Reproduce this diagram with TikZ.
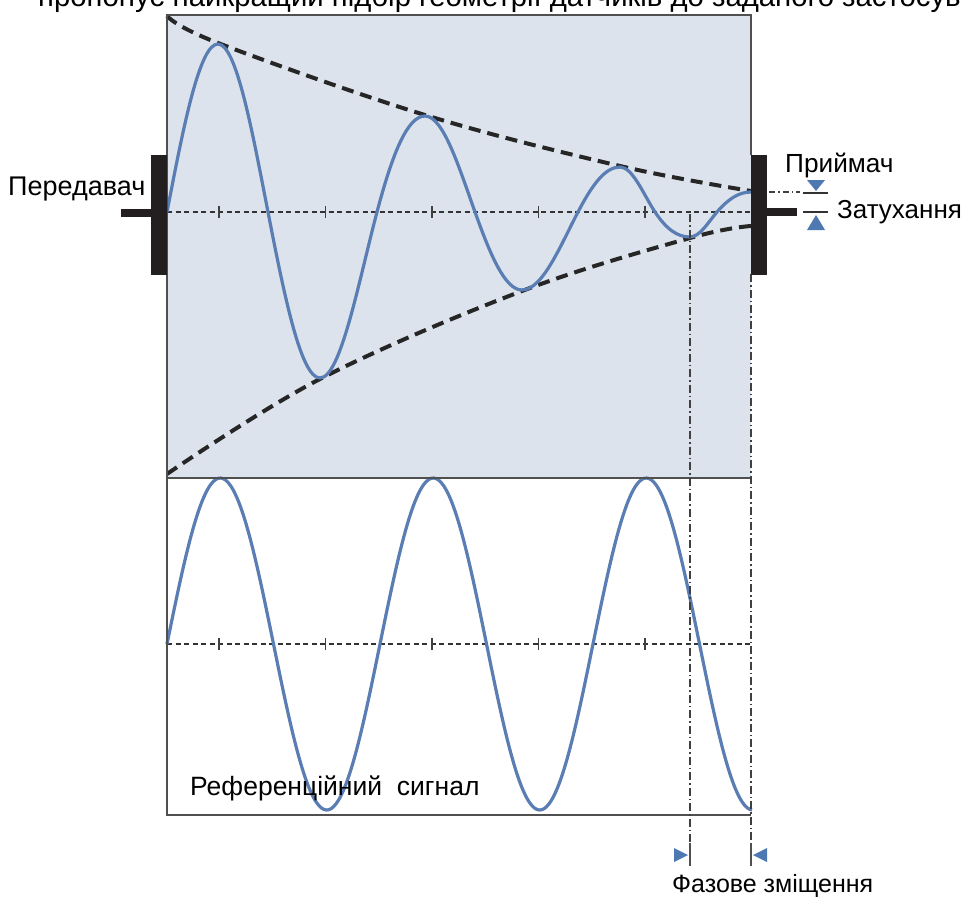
\documentclass[tikz,border=0pt]{standalone}
\usepackage{fontspec}
\setmainfont{Liberation Sans}
\definecolor{wave}{HTML}{5A7DB3}
\definecolor{panel}{HTML}{DCE3EC}
\definecolor{frame}{HTML}{505050}
\definecolor{bar}{HTML}{231F20}
\definecolor{mark}{HTML}{4E78B2}
\begin{document}
\begin{tikzpicture}[x=1pt,y=-1pt,
  wavepath/.style={draw=wave,line width=3.2pt},
  envelope/.style={draw=black!85,line width=4pt,dash pattern=on 12pt off 7pt},
  axisline/.style={draw=black!80,line width=1.2pt,dash pattern=on 5pt off 3.5pt},
  tickmark/.style={draw=black!75,line width=1.6pt},
  frameline/.style={draw=frame,line width=1.6pt},
  dashdot/.style={draw=black!75,line width=1.3pt,dash pattern=on 8pt off 3pt on 1.5pt off 3pt},
  sensorbar/.style={fill=bar,draw=none},
  marktri/.style={fill=mark,draw=none},
  lbl/.style={inner sep=0pt,anchor=base west},
  fs/.style={font=\fontsize{#1}{#1}\selectfont}]
\useasboundingbox (0,0) rectangle (966,897);
% panels
\fill[panel] (167,15) rectangle (751,478);
\fill[white] (167,478) rectangle (751,815);
% axes
\draw[axisline] (167,212) -- (751,212);
\draw[axisline] (167,644) -- (751,644);
\foreach \t in {219,325.5,432,538.5,645}{
  \draw[tickmark] (\t,206) -- (\t,218);
  \draw[tickmark] (\t,638) -- (\t,650);
}
% envelopes
\draw[envelope] plot[smooth,tension=0.6] coordinates {(167,16) (218,43) (425,115) (620,166) (751,191)};
\draw[envelope] plot[smooth,tension=0.6] coordinates {(167,474) (320,379) (522,291) (690,238) (751,226)};
% damped wave
\draw[wavepath] (167,212)
  .. controls (183.6,126.0) and (199.5,44) .. (218,44)
  .. controls (236.1,44) and (251.7,128.2) .. (268,212)
  .. controls (284.9,298.9) and (301.2,378) .. (320,378)
  .. controls (340.6,378) and (358.4,282.5) .. (377,212)
  .. controls (392.6,152.9) and (407.6,116) .. (425,116)
  .. controls (443.1,116) and (458.7,166.4) .. (475,212)
  .. controls (490.3,254.8) and (505.0,290) .. (522,290)
  .. controls (542.3,290) and (559.8,247.0) .. (578,212)
  .. controls (591.7,185.7) and (604.8,167) .. (620,167)
  .. controls (632.7,167) and (643.6,194.8) .. (655,212)
  .. controls (666.4,229.2) and (677.3,237) .. (690,237)
  .. controls (699.8,237) and (708.2,222.2) .. (717,212)
  .. controls (728.1,199.1) and (738.7,192) .. (751,192);
% reference wave
\draw[wavepath] plot[domain=0:585,samples=240,smooth] ({\x+167},{644-166*sin(1.690141*\x)});
% frames
\draw[frameline] (751,155) -- (751,15) -- (167,15) -- (167,815) -- (751,815);
\draw[frameline] (167,478) -- (751,478);
% phase lines
\coordinate (phA) at (690,214);
\coordinate (phB) at (690,842);
\coordinate (rcA) at (751,274);
\coordinate (rcB) at (751,842);
\draw[dashdot] (phA) -- (phB);
\draw[dashdot] (rcA) -- (rcB);
\draw[frameline,line width=1.4pt] (690,843) -- (690,866);
\draw[frameline,line width=1.4pt] (751,843) -- (751,866);
\fill[marktri] (674,848) -- (674,862) -- (688,855) -- cycle;
\fill[marktri] (767,848) -- (767,862) -- (753,855) -- cycle;
% sensors
\fill[sensorbar] (151,155) rectangle (167,275);
\fill[sensorbar] (121,209) rectangle (151,217);
\fill[sensorbar] (751,155) rectangle (767,275);
\fill[sensorbar] (767,208) rectangle (797,216);
% attenuation markers
\draw[dashdot,line width=1.1pt,dash pattern=on 6pt off 3pt on 1.5pt off 3pt] (769,192) -- (800,192);
\draw[draw=black!80,line width=1.3pt] (803,193) -- (828,193);
\draw[draw=black!80,line width=1.3pt] (803,212) -- (828,212);
\fill[marktri] (807,180) -- (825,180) -- (816,191) -- cycle;
\fill[marktri] (807,230) -- (825,230) -- (816,215) -- cycle;
% labels
\node[lbl,fs=29.3] (title) at (38,6) {пропонує найкращий підбір геометрії датчиків до заданого застосув};
\node[lbl,fs=27] (tx) at (8,195) {Передавач};
\node[lbl,fs=26.2] (rx) at (785,172) {Приймач};
\node[lbl,fs=26] (att) at (837,218) {Затухання};
\node[lbl,fs=26.5] (ref) at (190,795) {Референційний\ \ сигнал};
\node[lbl,fs=25] (phase) at (672,892) {Фазове зміщення};
\end{tikzpicture}
\end{document}
